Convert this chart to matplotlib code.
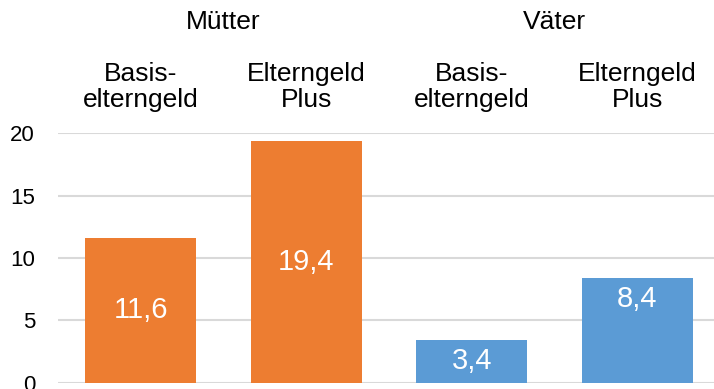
import matplotlib.pyplot as plt

plt.rcParams['font.family'] = ['Liberation Sans', 'DejaVu Sans']

groups = ['Mütter', 'Väter']
categories = ['Basis-\nelterngeld', 'Elterngeld\nPlus', 'Basis-\nelterngeld', 'Elterngeld\nPlus']
values = [11.6, 19.4, 3.4, 8.4]
value_labels = ['11,6', '19,4', '3,4', '8,4']
colors = ['#ED7D31', '#ED7D31', '#5B9BD5', '#5B9BD5']
yticks = [0, 5, 10, 15, 20]

fig = plt.figure(figsize=(7.14, 3.89), dpi=100)
ax = fig.add_axes([0.0812, 0.0165, 0.927, 0.641])

x = list(range(len(values)))
ax.bar(x, values, width=0.67, color=colors, zorder=3)

ax.set_xlim(-0.5, 3.5)
ax.set_ylim(0, 20)
ax.set_yticks(yticks)
ax.set_yticklabels([str(t) for t in yticks], fontsize=16)
ax.tick_params(axis='y', length=0, pad=16.5)
ax.set_xticks([])
ax.yaxis.grid(True, color='#D9D9D9', linewidth=1.5, zorder=0)
for s in ax.spines.values():
    s.set_visible(False)

# value labels inside the bars; the last one sits near the top
label_y = [v / 2 for v in values]
label_y[3] = values[3] - 1.7
for xi, ly, txt in zip(x, label_y, value_labels):
    ax.text(xi, ly, txt, ha='center', va='center', color='white', fontsize=21)

# category headers above the plot
trans = ax.get_xaxis_transform()
for xi, cat in zip(x, categories):
    ax.text(xi, 1.186, cat, transform=trans, ha='center', va='center',
            fontsize=19, linespacing=1.13)
for gi, g in enumerate(groups):
    ax.text(2 * gi + 0.5, 1.447, g, transform=trans, ha='center', va='center',
            fontsize=19)

fig.savefig('out.png', dpi=100)
